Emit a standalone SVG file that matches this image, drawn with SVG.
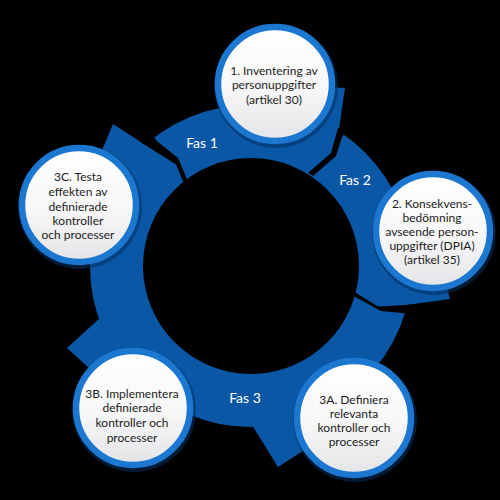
<svg xmlns="http://www.w3.org/2000/svg" width="500" height="500" viewBox="0 0 500 500">
  <defs>
    <linearGradient id="fillg" x1="0" y1="0" x2="0" y2="1">
      <stop offset="0" stop-color="#ffffff"/>
      <stop offset="0.55" stop-color="#f7f7f8"/>
      <stop offset="1" stop-color="#e3e4e7"/>
    </linearGradient>
    <style>
      .seg { fill: #0a57a6; }
      .gap { fill: #000; }
      .shadow { fill: #04305e; opacity: 0.55; }
      .node { fill: url(#fillg); stroke: #1b77d0; stroke-width: 6.5; }
      .t { font-family: Lato, "Noto Sans", "Liberation Sans", sans-serif; font-size: 12px; fill: #1c1c1c; text-anchor: middle; }
      .fas { font-family: Lato, "Noto Sans", "Liberation Sans", sans-serif; font-size: 14px; fill: #ffffff; text-anchor: middle; }
    </style>
  </defs>
  <rect width="500" height="500" fill="#000"/>

  <g id="connectors">
    <path class="seg" fill-rule="evenodd" d="M 90 266 A 161 161 0 1 0 412 266 A 161 161 0 1 0 90 266 Z M 143 266 A 108 108 0 1 0 359 266 A 108 108 0 1 0 143 266 Z"/>
    <polygon class="seg" points="345,88 336,150 268.6,132.2 275,84"/>
    <polygon class="seg" points="450,299 392,307 383.6,240.5 433,231"/>
    <polygon class="seg" points="278,467 245.1,414.1 326.7,377.8 354,418"/>
    <polygon class="seg" points="67,348 110.4,308.6 164.7,369.9 133,408"/>
    <polygon class="seg" points="113,124 170,161 123.7,221 79,205"/>
    <polygon class="gap" points="150,133 158,142 178,158 189,184 185,186 176,164.5 140,141.7"/>
    <polygon class="gap" points="348,128 342,137 336,156 313,176 308,173 331,153 338,128"/>
    <polygon class="gap" points="418,316 402,313 381,311 358,298.5 351,295 353,291 378,306.5 405,305 420,304"/>
    <text class="fas" x="202" y="148">Fas 1</text>
    <text class="fas" x="355" y="185">Fas 2</text>
    <text class="fas" x="245" y="403">Fas 3</text>
  </g>

  <g id="node1">
    <circle class="shadow" cx="276" cy="86" r="62"/>
    <circle class="node" cx="275" cy="84" r="57"/>
    <text class="t" x="274" y="74.5">1. Inventering av</text>
    <text class="t" x="274" y="89">personuppgifter</text>
    <text class="t" x="274" y="103.5">(artikel 30)</text>
  </g>

  <g id="node2">
    <circle class="shadow" cx="434" cy="233" r="62"/>
    <circle class="node" cx="433" cy="231" r="57"/>
    <text class="t" x="432" y="207.5">2. Konsekvens-</text>
    <text class="t" x="432" y="221.5">bedömning</text>
    <text class="t" x="432" y="235.5">avseende person-</text>
    <text class="t" x="432" y="249.5">uppgifter (DPIA)</text>
    <text class="t" x="432" y="263.5">(artikel 35)</text>
  </g>

  <g id="node3a">
    <circle class="shadow" cx="355" cy="420" r="62"/>
    <circle class="node" cx="354" cy="418" r="57"/>
    <text class="t" x="354" y="403.5">3A. Definiera</text>
    <text class="t" x="354" y="417.5">relevanta</text>
    <text class="t" x="354" y="432">kontroller och</text>
    <text class="t" x="354" y="446">processer</text>
  </g>

  <g id="node3b">
    <circle class="shadow" cx="134" cy="410" r="62"/>
    <circle class="node" cx="133" cy="408" r="57"/>
    <text class="t" x="132" y="397.5">3B. Implementera</text>
    <text class="t" x="132" y="412">definierade</text>
    <text class="t" x="132" y="427">kontroller och</text>
    <text class="t" x="132" y="441.5">processer</text>
  </g>

  <g id="node3c">
    <circle class="shadow" cx="80" cy="207" r="62"/>
    <circle class="node" cx="79" cy="205" r="57"/>
    <text class="t" x="78" y="181">3C. Testa</text>
    <text class="t" x="78" y="196">effekten av</text>
    <text class="t" x="78" y="210.5">definierade</text>
    <text class="t" x="78" y="224.5">kontroller</text>
    <text class="t" x="78" y="239">och processer</text>
  </g>
</svg>
